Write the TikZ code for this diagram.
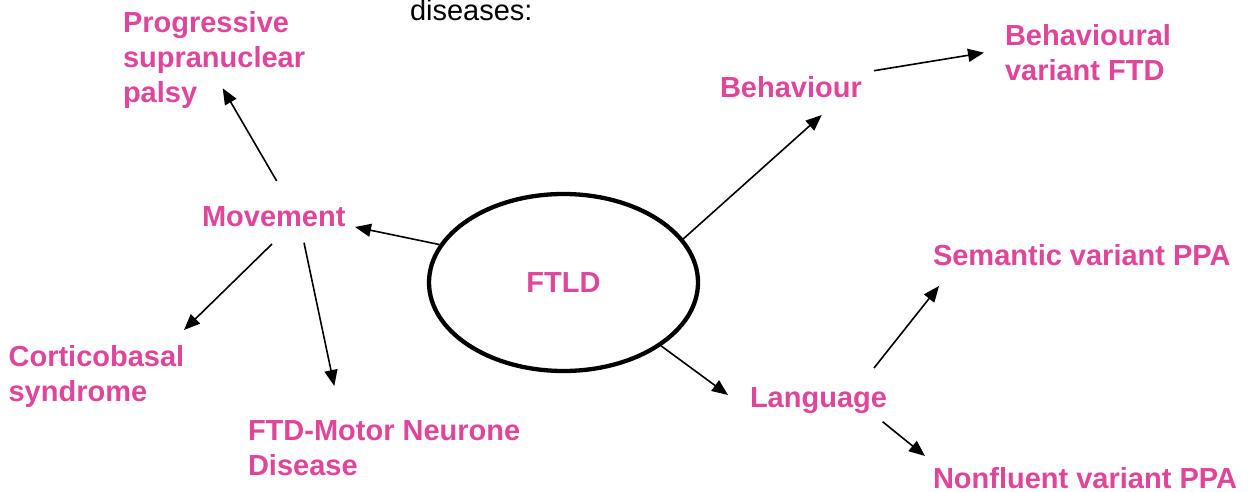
\documentclass[tikz,border=0pt]{standalone}
\usepackage{fontspec}
\setmainfont{Liberation Sans}
\usetikzlibrary{arrows.meta,shapes.geometric}
\definecolor{ftpink}{RGB}{223,69,153}
\newcommand{\twolines}[2]{\vtop{\hbox{#1}\hbox{#2}}}
\newcommand{\threelines}[3]{\vtop{\hbox{#1}\hbox{#2}\hbox{#3}}}
\begin{document}
\begin{tikzpicture}[x=1pt,y=-1pt,
  lbl/.style={text=ftpink,font=\fontsize{29}{35}\selectfont\bfseries,inner sep=0pt,outer sep=0pt,anchor=base west},
  plain/.style={text=black,font=\fontsize{29}{35}\selectfont,inner sep=0pt,outer sep=0pt,anchor=base west},
  hub/.style={draw=black,ellipse,line width=4.3pt,minimum width=269pt,minimum height=177pt,inner sep=0pt,text=ftpink,font=\fontsize{29}{35}\selectfont\bfseries},
  arr/.style={line width=1.6pt,draw=black,-{Triangle[length=16pt,width=13pt]}}]
\useasboundingbox (0,0) rectangle (1257,492);
\fill[white] (0,0) rectangle (1257,492);

\node[plain] (dis) at (410,20.7) {diseases:};

\node[hub] (ftld) at (563.5,282.5) {FTLD};

\node[lbl] (psp) at (123,32.3) {\threelines{Progressive}{supranuclear}{palsy}};
\node[lbl] (mov) at (202,226) {Movement};
\node[lbl] (cbs) at (8.6,366.7) {\twolines{Corticobasal}{syndrome}};
\node[lbl] (mnd) at (248,440) {\twolines{FTD-Motor Neurone}{Disease}};
\node[lbl] (beh) at (720,97.3) {Behaviour};
\node[lbl] (bvftd) at (1005,45.7) {\twolines{Behavioural}{variant FTD}};
\node[lbl] (lang) at (750,407) {Language};
\node[lbl] (sem) at (933,265.5) {Semantic variant PPA};
\node[lbl] (nfl) at (933,488) {Nonfluent variant PPA};

\draw[arr] (ftld.163) -- ([shift={(153,1)}]mov.base west);
\draw[arr] ([shift={(74.7,-45)}]mov.base west) -- ([shift={(99.7,56)}]psp.base west);
\draw[arr] ([shift={(70,18)}]mov.base west) -- ([shift={(175.4,-36.7)}]cbs.base west);
\draw[arr] ([shift={(102,16.7)}]mov.base west) -- ([shift={(86.3,-54)}]mnd.base west);
\draw[arr] (ftld.20.6) -- ([shift={(101.7,17.7)}]beh.base west);
\draw[arr] ([shift={(154,-26.6)}]beh.base west) -- ([shift={(-21,7)}]bvftd.base west);
\draw[arr] (ftld.-33.8) -- ([shift={(-22,-12)}]lang.base west);
\draw[arr] ([shift={(124,-39)}]lang.base west) -- ([shift={(6,20.5)}]sem.base west);
\draw[arr] ([shift={(132.6,14.7)}]lang.base west) -- ([shift={(-8,-32)}]nfl.base west);
\end{tikzpicture}
\end{document}
